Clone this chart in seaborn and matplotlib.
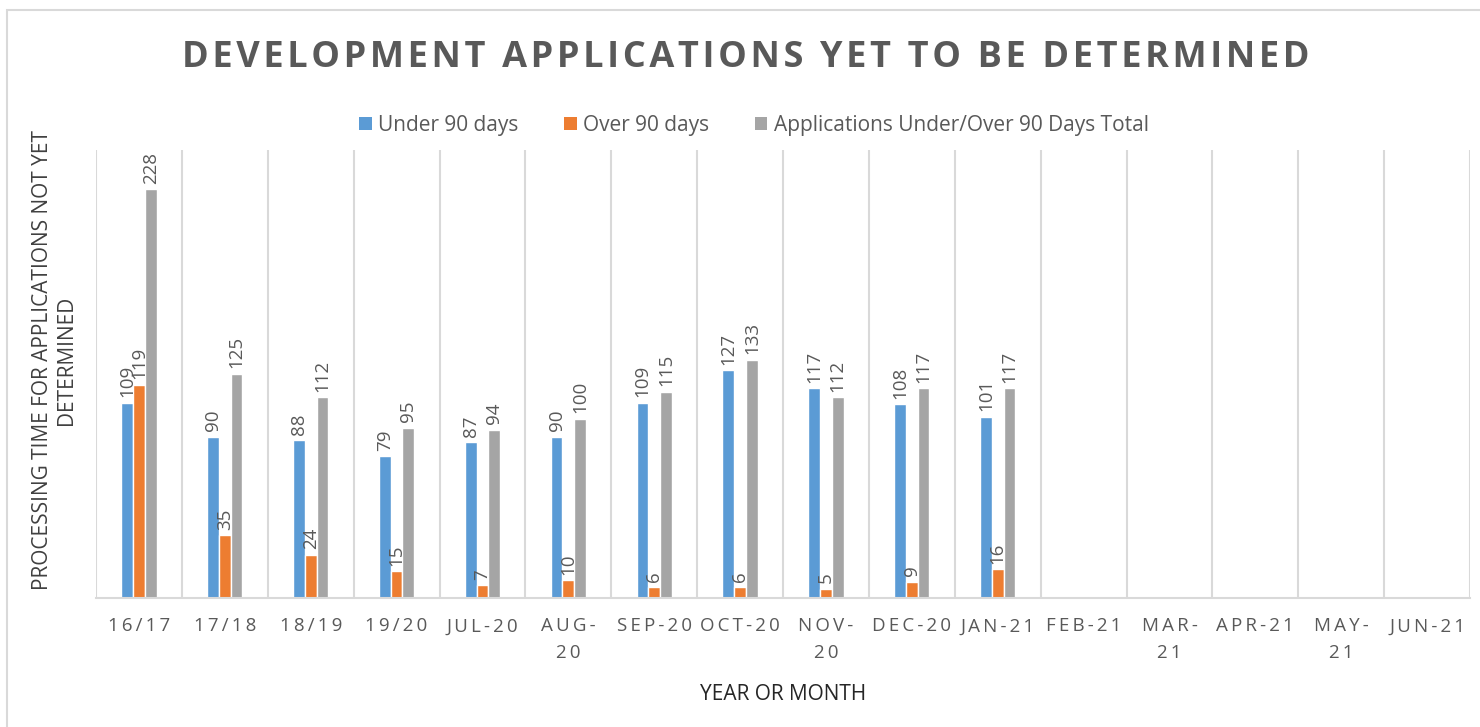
import matplotlib
matplotlib.use("Agg")
import matplotlib.pyplot as plt
import seaborn as sns
import pandas as pd
import numpy as np
from matplotlib.patches import Rectangle, Patch

categories = ["16/17", "17/18", "18/19", "19/20", "JUL-20", "AUG-20", "SEP-20", "OCT-20",
              "NOV-20", "DEC-20", "JAN-21", "FEB-21", "MAR-21", "APR-21", "MAY-21", "JUN-21"]
tick_labels = ["16/17", "17/18", "18/19", "19/20", "JUL-20", "AUG-\n20", "SEP-20", "OCT-20",
               "NOV-\n20", "DEC-20", "JAN-21", "FEB-21", "MAR-\n21", "APR-21", "MAY-\n21", "JUN-21"]
under_90 = [109, 90, 88, 79, 87, 90, 109, 127, 117, 108, 101, None, None, None, None, None]
over_90 = [119, 35, 24, 15, 7, 10, 6, 6, 5, 9, 16, None, None, None, None, None]
total = [228, 125, 112, 95, 94, 100, 115, 133, 112, 117, 117, None, None, None, None, None]
series_names = ["Under 90 days", "Over 90 days", "Applications Under/Over 90 Days Total"]
colors = ["#5B9BD5", "#ED7D31", "#A5A5A5"]

rows = []
for name, vals in zip(series_names, [under_90, over_90, total]):
    for c, v in zip(categories, vals):
        rows.append({"cat": c, "series": name, "value": np.nan if v is None else v})
df = pd.DataFrame(rows)

sns.set_style("white")
FONT = ["Open Sans", "DejaVu Sans"]
plt.rcParams["font.family"] = FONT

def spaced(s, sep="\u2009"):
    return "\n".join(sep.join(list(line)) for line in s.split("\n"))

fig = plt.figure(figsize=(14.8, 7.27), dpi=100)
ax = fig.add_axes([96/1480, 1-598/727, (1470-96)/1480, (598-150)/727])

sns.barplot(data=df, x="cat", y="value", hue="series", order=categories,
            hue_order=series_names, palette=colors, width=0.41, gap=0,
            saturation=1, ax=ax, legend=False, errorbar=None)

ax.set_ylim(0, 250)
ax.set_xlim(-0.5, len(categories) - 0.5)
ax.set_yticks([])
for s in ["top", "left", "right"]:
    ax.spines[s].set_visible(False)
ax.spines["bottom"].set_color("#D9D9D9")
ax.spines["bottom"].set_linewidth(1.5)

ax.set_xticks(range(len(categories)))
ax.set_xticklabels([spaced(t) for t in tick_labels], fontsize=13.5, color="#595959",
                   linespacing=1.6, va="top")
ax.tick_params(axis="x", length=0, pad=14)
ax.set_xticks(np.arange(-0.5, len(categories), 1), minor=True)
ax.tick_params(axis="x", which="minor", length=0)
ax.grid(which="minor", axis="x", color="#D9D9D9", linewidth=1.5)
ax.grid(which="major", axis="x", visible=False)
ax.set_axisbelow(True)

for cont in ax.containers:
    labels = ["" if np.isnan(v) else f"{int(v)}" for v in cont.datavalues]
    ax.bar_label(cont, labels=labels, rotation=90, padding=4, fontsize=13.5,
                 color="#595959")

ax.set_xlabel("YEAR OR MONTH", fontsize=15, color="#262626", labelpad=16)
ax.set_ylabel("PROCESSING TIME FOR APPLICATIONS NOT YET\nDETERMINED", fontsize=15,
              color="#404040")
ax.yaxis.set_label_coords(-0.014, 0.531)

fig.text(746/1480, 1-58/727, spaced("DEVELOPMENT APPLICATIONS YET TO BE DETERMINED", "\u200a"),
         ha="center", va="center", fontsize=26, fontweight="bold", color="#595959")

handles = [Patch(facecolor=c, edgecolor="none") for c in colors]
fig.legend(handles, series_names, loc="center", bbox_to_anchor=(754/1480, 1-125/727),
           ncol=3, frameon=False, fontsize=15, labelcolor="#595959",
           handlelength=0.6, handleheight=0.6, handletextpad=0.3, columnspacing=2.2)

fig.patches.append(Rectangle((7/1480, -0.1), 1.2, 1 - 10/727 + 0.1, transform=fig.transFigure,
                             fill=False, edgecolor="#D9D9D9", linewidth=1.5))

fig.savefig("out.png", dpi=100)
